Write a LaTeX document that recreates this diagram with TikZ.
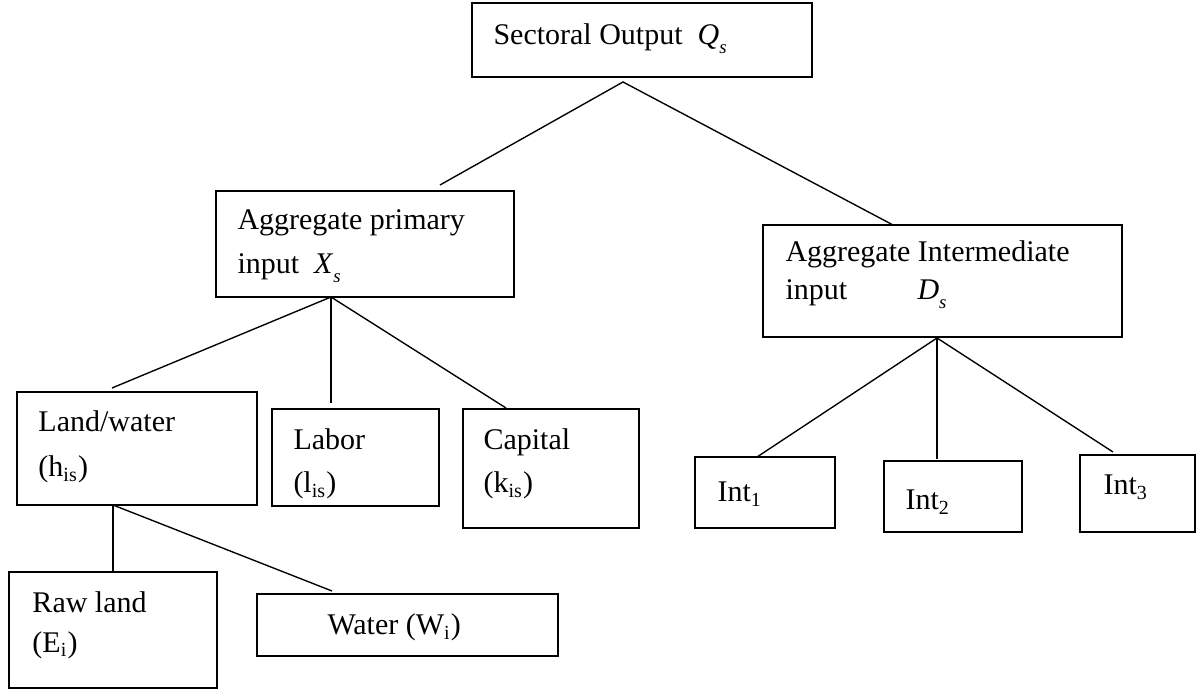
\documentclass[tikz,border=0pt]{standalone}
\usepackage{fontspec}
\setmainfont{Liberation Serif}
\newcommand\lowsub[2]{\textit{#1}\raisebox{-3.4pt}{\fontsize{7.5}{8}\selectfont\itshape #2}}
\begin{document}
\begin{tikzpicture}[x=0.4pt,y=-0.4pt,
  box/.style={draw,line width=0.8pt,inner sep=0pt},
  txt/.style={inner sep=0pt,anchor=base west,font=\fontsize{12}{14}\selectfont},
  link/.style={line width=0.55pt}]
\useasboundingbox (0,0) rectangle (1197,690);
% boxes
\node[box,minimum width=136pt,minimum height=29.6pt] (S) at (642,40) {};
\node[box,minimum width=119.2pt,minimum height=42.4pt] (P) at (365,244) {};
\node[box,minimum width=143.6pt,minimum height=44.8pt] (I) at (942.5,281) {};
\node[box,minimum width=96pt,minimum height=45.2pt] (LW) at (137,448.5) {};
\node[box,minimum width=66.8pt,minimum height=38.8pt] (Lab) at (355.5,457.5) {};
\node[box,minimum width=70.4pt,minimum height=47.6pt] (Cap) at (551,468.5) {};
\node[box,minimum width=56pt,minimum height=28.4pt] (I1) at (765,492.5) {};
\node[box,minimum width=55.2pt,minimum height=28.4pt] (I2) at (953,496.5) {};
\node[box,minimum width=46pt,minimum height=30.8pt] (I3) at (1137.5,493.5) {};
\node[box,minimum width=83.2pt,minimum height=46.4pt] (Raw) at (113,630) {};
\node[box,minimum width=120.4pt,minimum height=24.8pt] (W) at (407.5,625) {};
% texts
\node[txt] (tS) at (493,45) {Sectoral Output\hspace{6pt}\lowsub{Q}{s}};
\node[txt] (tP1) at (237,230) {Aggregate primary};
\node[txt] (tP2) at (237,274) {input\hspace{6pt}\lowsub{X}{s}};
\node[txt] (tI1) at (785,262) {Aggregate Intermediate};
\node[txt] (tI2) at (785,300) {input};
\node[txt] (tI3) at (917,300) {\lowsub{D}{s}};
\node[txt] (tLW1) at (38,432) {Land/water};
\node[txt] (tLW2) at (38,477) {(h\textsubscript{is})};
\node[txt] (tLab1) at (293,450) {Labor};
\node[txt] (tLab2) at (293,493) {(l\textsubscript{is})};
\node[txt] (tCap1) at (483,450) {Capital};
\node[txt] (tCap2) at (483,493) {(k\textsubscript{is})};
\node[txt] (tI1b) at (717,502) {Int\textsubscript{1}};
\node[txt] (tI2b) at (905,510) {Int\textsubscript{2}};
\node[txt] (tI3b) at (1103,495) {Int\textsubscript{3}};
\node[txt] (tRaw1) at (32,612) {Raw land};
\node[txt] (tRaw2) at (32,652) {(E\textsubscript{i})};
\node[txt] (tW) at (327,635) {Water (W\textsubscript{i})};
% connector points
\coordinate (sA) at (623,82);
\coordinate (sL) at (440,185);
\coordinate (sR) at (893,225);
\coordinate (pA) at (331,297);
\coordinate (pL) at (112,388);
\coordinate (pM) at (331,403);
\coordinate (pR) at (506,408);
\coordinate (lA) at (113,505);
\coordinate (lM) at (113,572);
\coordinate (lR) at (332,591);
\coordinate (iA) at (937,338);
\coordinate (iL) at (757,457);
\coordinate (iM) at (937,459);
\coordinate (iR) at (1113,452);
% connectors
\draw[link] (sL) -- (sA) -- (sR);
\draw[link] (pA) -- (pL);
\draw[link] (pA) -- (pM);
\draw[link] (pA) -- (pR);
\draw[link] (lA) -- (lM);
\draw[link] (lA) -- (lR);
\draw[link] (iA) -- (iL);
\draw[link] (iA) -- (iM);
\draw[link] (iA) -- (iR);
\end{tikzpicture}
\end{document}
